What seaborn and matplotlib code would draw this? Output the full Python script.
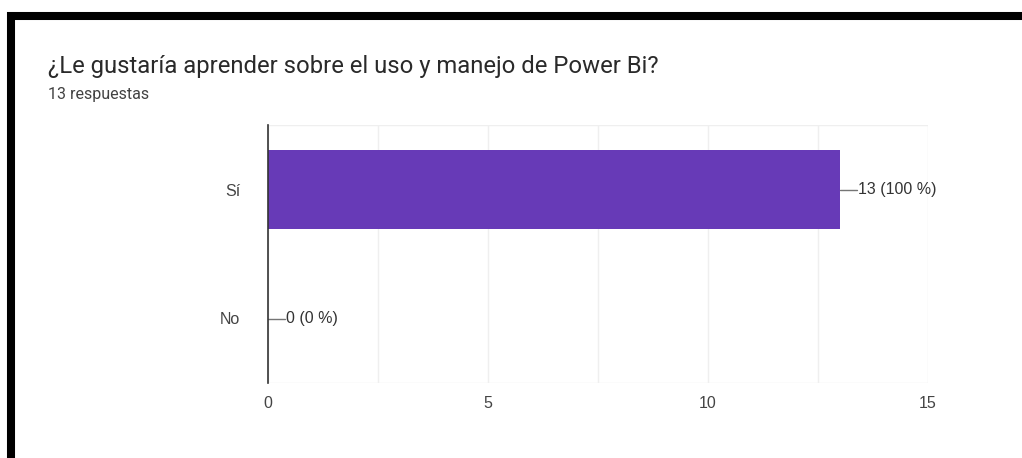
import pandas as pd
import numpy as np
import seaborn as sns
import matplotlib.pyplot as plt
from matplotlib.lines import Line2D

# data
categories = ['Sí', 'No']
counts = [13, 0]
percents = ['100 %', '0 %']
total = 13

df = pd.DataFrame({'respuesta': categories, 'conteo': counts})

sns.set_style('white')
plt.rcParams['font.family'] = ['Liberation Sans', 'DejaVu Sans']

fig = plt.figure(figsize=(10.22, 4.58), dpi=100)
ax = fig.add_axes([268 / 1022, 1 - 383 / 458, 660 / 1022, 258 / 458])

sns.barplot(data=df, x='conteo', y='respuesta', orient='h', color='#673ab7',
            width=0.61, saturation=1, linewidth=0, ax=ax)

ax.set_xlim(0, 15)
ax.set_ylim(1.5, -0.5)
ax.set_xticks([0, 5, 10, 15])
ax.set_xticks([2.5, 7.5, 12.5], minor=True)
ax.grid(True, axis='x', which='both', color='#efefef', lw=1)
ax.set_axisbelow(True)
ax.set_xlabel('')
ax.set_ylabel('')
ax.tick_params(axis='both', length=0, labelsize=11.5, colors='#444444')
ax.tick_params(axis='x', pad=9)
ax.tick_params(axis='y', pad=20)
for s in ['top', 'right', 'bottom']:
    ax.spines[s].set_visible(False)
ax.spines['left'].set_color('#333333')
ax.spines['left'].set_linewidth(1.2)
ax.axhline(-0.5, color='#efefef', lw=1, zorder=0)
ax.axhline(1.5, color='#efefef', lw=1, zorder=0)

# value labels with a short leader line
for i, (c, p) in enumerate(zip(counts, percents)):
    ax.plot([c, c + 0.38], [i, i], color='#757575', lw=1, clip_on=False)
    ax.text(c + 0.4, i, f'{c} ({p})', va='center', ha='left', fontsize=11.5,
            color='#333333')

# titles
fig.text(48 / 1022, 1 - 66 / 458, '¿Le gustaría aprender sobre el uso y manejo de Power Bi?',
         fontsize=17.2, color='#2a2a2a', va='center', family=['Roboto', 'DejaVu Sans'])
fig.text(48 / 1022, 1 - 95 / 458, f'{total} respuestas', fontsize=11.5,
         color='#424242', va='center', family=['Roboto', 'DejaVu Sans'])

# black frame of the screenshot
fig.add_artist(Line2D([7 / 1022, 1], [1 - 16 / 458, 1 - 16 / 458], color='black',
                      lw=5.8, transform=fig.transFigure, solid_capstyle='butt'))
fig.add_artist(Line2D([11 / 1022, 11 / 1022], [0, 1 - 12 / 458], color='black',
                      lw=5.8, transform=fig.transFigure, solid_capstyle='butt'))

fig.savefig('out.png', dpi=100)
